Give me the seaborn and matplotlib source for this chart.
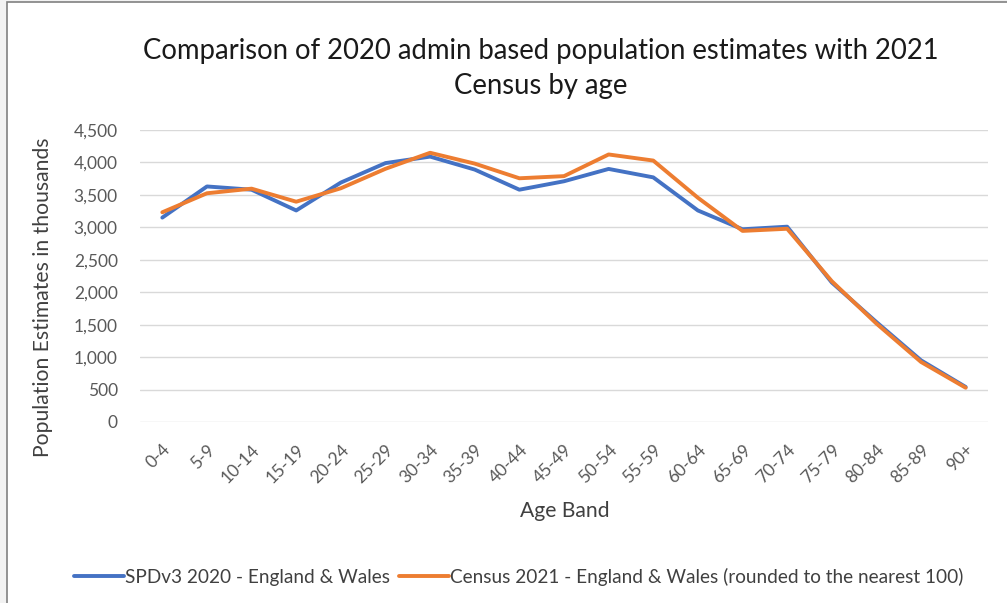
import matplotlib

matplotlib.use("Agg")
import matplotlib.pyplot as plt
import matplotlib.patches as mpatches
import pandas as pd
import seaborn as sns


age_bands = [
    "0-4", "5-9", "10-14", "15-19", "20-24", "25-29", "30-34", "35-39", "40-44",
    "45-49", "50-54", "55-59", "60-64", "65-69", "70-74", "75-79", "80-84",
    "85-89", "90+",
]
spd_2020 = [3150, 3630, 3580, 3260, 3690, 3990, 4090, 3890, 3580, 3710, 3900,
            3770, 3260, 2970, 3010, 2150, 1540, 950, 540]
census_2021 = [3232, 3525, 3596, 3395, 3602, 3902, 4149, 3982, 3756, 3789, 4123,
               4029, 3456, 2945, 2978, 2170, 1517, 925, 528]
y_ticks = [0, 500, 1000, 1500, 2000, 2500, 3000, 3500, 4000, 4500]

spd_label = "SPDv3 2020 - England & Wales"
census_label = "Census 2021 - England & Wales (rounded to the nearest 100)"

df = pd.DataFrame({
    "age": age_bands * 2,
    "value": spd_2020 + census_2021,
    "series": [spd_label] * len(age_bands) + [census_label] * len(age_bands),
})

sns.set_style("white")
plt.rcParams["font.family"] = ["Lato", "DejaVu Sans"]

fig = plt.figure(figsize=(10.07, 6.03), dpi=100, facecolor="#f2f2f2")
# chart frame (Excel-style border)
frame = mpatches.Rectangle((7 / 1007, -0.01), 1.02, 1 - 2 / 603 + 0.01,
                           transform=fig.transFigure, facecolor="white",
                           edgecolor="#808080", linewidth=1.2, zorder=-1)
fig.patches.append(frame)

ax = fig.add_axes([140 / 1007, 1 - 422 / 603, 848 / 1007, 292 / 603])
ax.set_facecolor("none")

sns.lineplot(
    data=df, x="age", y="value", hue="series", sort=False,
    palette=["#4472C4", "#ED7D31"], linewidth=2.8, ax=ax, legend=False,
)

ax.set_xlim(-0.5, len(age_bands) - 0.5)
ax.set_ylim(0, 4500)
ax.set_yticks(y_ticks)
ax.set_yticklabels([f"{v:,}" for v in y_ticks])
ax.grid(axis="y", color="#d9d9d9", linewidth=1)
ax.set_axisbelow(True)
sns.despine(ax=ax, left=True, bottom=True, top=True, right=True)
ax.tick_params(axis="both", length=0, labelsize=12.5, colors="#595959")
ax.tick_params(axis="y", pad=16)
ax.set_xticks(range(len(age_bands)))
ax.set_xticklabels(age_bands, rotation=45, ha="right", rotation_mode="anchor")
ax.tick_params(axis="x", pad=14)

ax.set_xlabel("Age Band", fontsize=15.2, color="#404040")
ax.xaxis.set_label_coords(0.501, -0.272)
ax.set_ylabel("Population Estimates in thousands", fontsize=15.2, color="#404040")
ax.yaxis.set_label_coords(-0.1026, 0.428)

fig.text(0.537, 0.915, "Comparison of 2020 admin based population estimates with 2021",
         ha="center", va="center", fontsize=19.8, color="#1a1a1a")
fig.text(0.537, 0.857, "Census by age", ha="center", va="center", fontsize=19.8,
         color="#1a1a1a")

handles = [
    plt.Line2D([], [], color="#4472C4", linewidth=2.8),
    plt.Line2D([], [], color="#ED7D31", linewidth=2.8),
]
fig.legend(handles, [spd_label, census_label], loc="center",
           bbox_to_anchor=(0.515, 1 - 577 / 603), ncol=2, frameon=False,
           fontsize=13.7, handlelength=2.65, handletextpad=0.05, columnspacing=0.45,
           labelcolor="#404040")

fig.savefig("out.png", dpi=100, facecolor=fig.get_facecolor())
